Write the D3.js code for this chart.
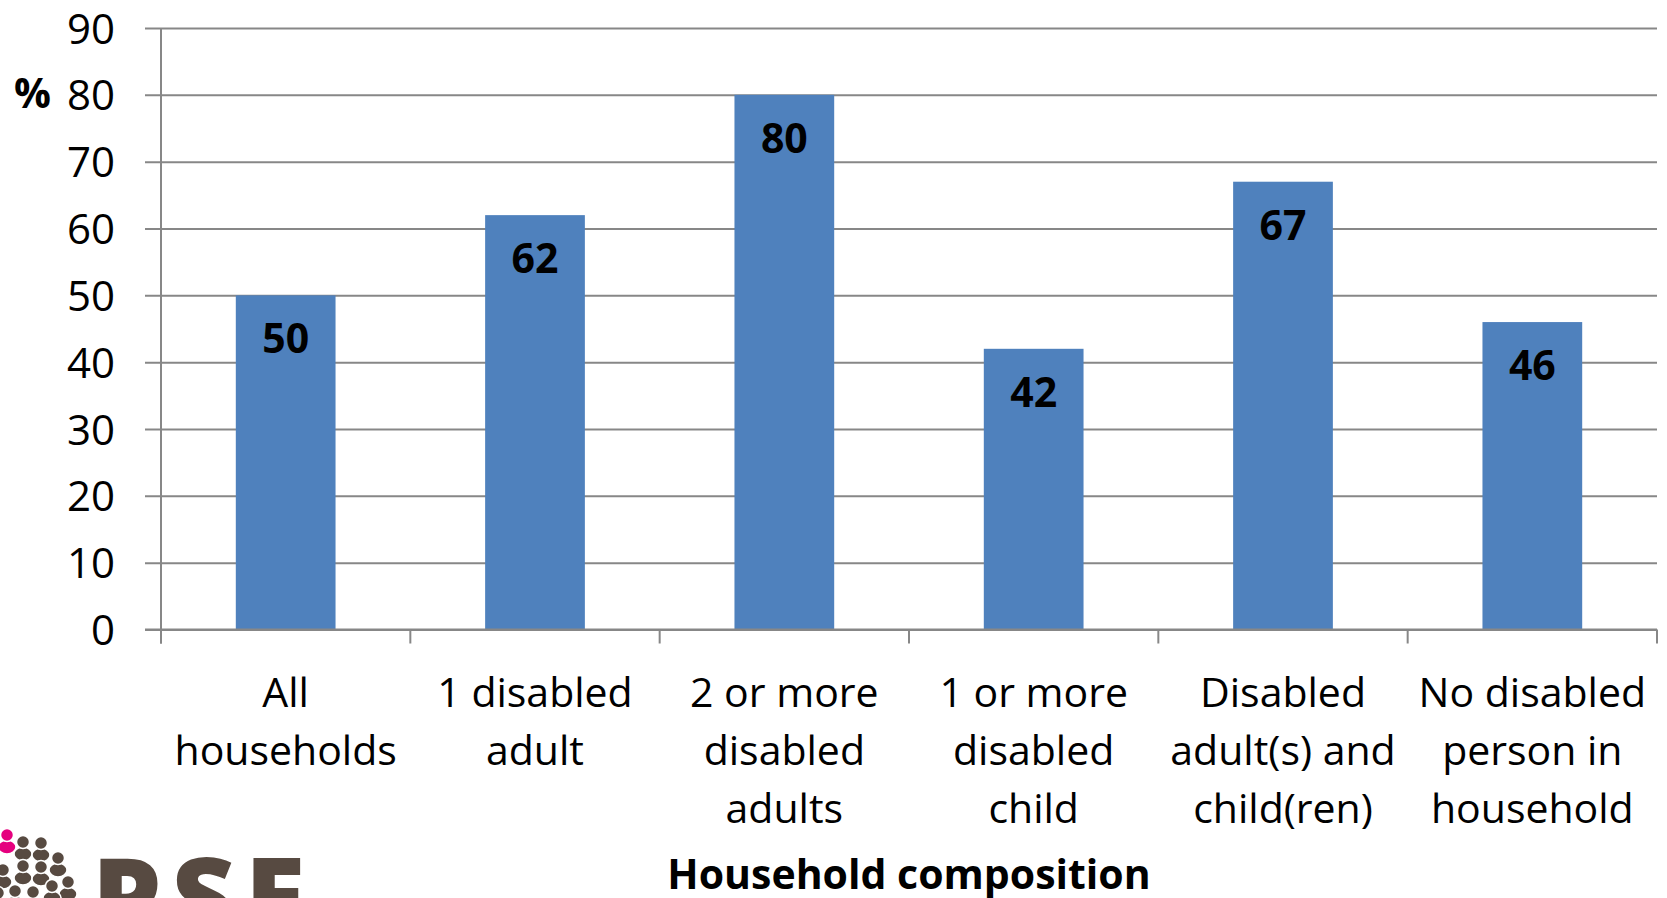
<!DOCTYPE html>
<html>
<head>
<meta charset="utf-8">
<script src="https://cdn.jsdelivr.net/npm/d3@7"></script>
<style>
  html, body { margin: 0; padding: 0; background: #fff; }
  svg { display: block; font-family: "Open Sans", sans-serif; }
</style>
</head>
<body>
<svg id="chart" width="1667" height="898"></svg>
<script>
// data
const categories = [
    ["All", "households"],
    ["1 disabled", "adult"],
    ["2 or more", "disabled", "adults"],
    ["1 or more", "disabled", "child"],
    ["Disabled", "adult(s) and", "child(ren)"],
    ["No disabled", "person in", "household"]
];
const values = [50, 62, 80, 42, 67, 46];
const yTicks = [0, 10, 20, 30, 40, 50, 60, 70, 80, 90];
const yLabel = "%";
const xTitle = "Household composition";

// logo heads (decoration): x, y, pink?
const logoHeads = [
    [7, 835, true], [23, 842, false], [41, 843, false], [58, 858, false],
    [3, 870, false], [23, 866, false], [41, 867, false],
    [68, 882, false], [52, 886, false], [33, 892, false], [15, 891, false], [-2, 893, false]
];

const margin = {left: 161, right: 10, top: 28, bottom: 268};
const TOTAL_WIDTH = 1667, TOTAL_HEIGHT = 898;
const width = TOTAL_WIDTH - margin.left - margin.right;
const height = 629.5 - margin.top;

const gridColor = "#878787";
const barColor = "#4f81bd";

const svg = d3.select("#chart");
const g = svg.append("g")
    .attr("transform", `translate(${margin.left}, ${margin.top})`);

const xScale = d3.scaleBand()
    .domain(d3.range(categories.length))
    .range([0, width])
    .paddingInner(0.6)
    .paddingOuter(0.3);

const yScale = d3.scaleLinear()
    .domain([0, 90])
    .range([height, 0]);

// gridlines + y axis
const yaxis = d3.axisLeft(yScale)
    .tickValues(yTicks)
    .tickSize(-width)
    .tickPadding(46)
    .tickFormat(d3.format("d"));
const yG = g.append("g").call(yaxis);
yG.select(".domain").remove();
yG.selectAll(".tick line")
    .attr("x1", -16)
    .attr("stroke", gridColor)
    .attr("stroke-width", 2);
yG.selectAll(".tick text")
    .attr("font-family", "'Open Sans', sans-serif")
    .attr("font-size", 42)
    .attr("fill", "#000")
    .attr("dy", "0.36em");

// y axis line
g.append("line")
    .attr("x1", 0).attr("x2", 0)
    .attr("y1", 0).attr("y2", height + 14)
    .attr("stroke", gridColor)
    .attr("stroke-width", 2);

// bars
g.selectAll(".bar")
    .data(values)
    .join("rect")
    .attr("class", "bar")
    .attr("x", (d, i) => xScale(i))
    .attr("y", d => yScale(d))
    .attr("width", xScale.bandwidth())
    .attr("height", d => height - yScale(d))
    .attr("fill", barColor);

// baseline on top of bars
g.append("line")
    .attr("x1", -16).attr("x2", width)
    .attr("y1", height).attr("y2", height)
    .attr("stroke", gridColor)
    .attr("stroke-width", 2);

// category boundary ticks
const step = xScale.step();
const bounds = d3.range(categories.length + 1).map(i => i * step);
g.selectAll(".xtick")
    .data(bounds)
    .join("line")
    .attr("class", "xtick")
    .attr("x1", d => d).attr("x2", d => d)
    .attr("y1", height).attr("y2", height + 14)
    .attr("stroke", gridColor)
    .attr("stroke-width", 2);

// value labels
g.selectAll(".val")
    .data(values)
    .join("text")
    .attr("class", "val")
    .attr("x", (d, i) => xScale(i) + xScale.bandwidth() / 2)
    .attr("y", d => yScale(d) + 58)
    .attr("text-anchor", "middle")
    .attr("font-size", 41)
    .attr("font-weight", "bold")
    .text(d => d);

// category labels
const catG = g.selectAll(".cat")
    .data(categories)
    .join("text")
    .attr("class", "cat")
    .attr("text-anchor", "middle")
    .attr("font-size", 41)
    .attr("fill", "#000");
catG.selectAll("tspan")
    .data((d, i) => d.map(s => ({s, i})))
    .join("tspan")
    .attr("x", d => xScale(d.i) + xScale.bandwidth() / 2)
    .attr("y", (d, j) => height + 77 + j * 58)
    .text(d => d.s);

// "%" label
svg.append("text")
    .text(yLabel)
    .attr("x", 14)
    .attr("y", 108)
    .attr("font-size", 41)
    .attr("font-weight", "bold");

// x title
svg.append("text")
    .text(xTitle)
    .attr("x", margin.left + width / 2)
    .attr("y", 889)
    .attr("text-anchor", "middle")
    .attr("font-size", 41)
    .attr("font-weight", "bold");

// logo (bottom left)
const logo = svg.append("g");
logoHeads.slice().sort((a, b) => a[1] - b[1]).forEach(([x, y, pink]) => {
    const c = pink ? "#e5007e" : "#574a41";
    logo.append("ellipse")
        .attr("cx", x).attr("cy", y + 12)
        .attr("rx", 9).attr("ry", 7)
        .attr("fill", c).attr("stroke", "#fff").attr("stroke-width", 1.5);
    logo.append("circle")
        .attr("cx", x).attr("cy", y)
        .attr("r", 6.5)
        .attr("fill", c).attr("stroke", "#fff").attr("stroke-width", 1.5);
});
logo.append("text")
    .text("PSE")
    .attr("x", 92)
    .attr("y", 937)
    .attr("font-size", 110)
    .attr("font-weight", 800)
    .attr("letter-spacing", 10)
    .attr("fill", "#574a41");
</script>
</body>
</html>
